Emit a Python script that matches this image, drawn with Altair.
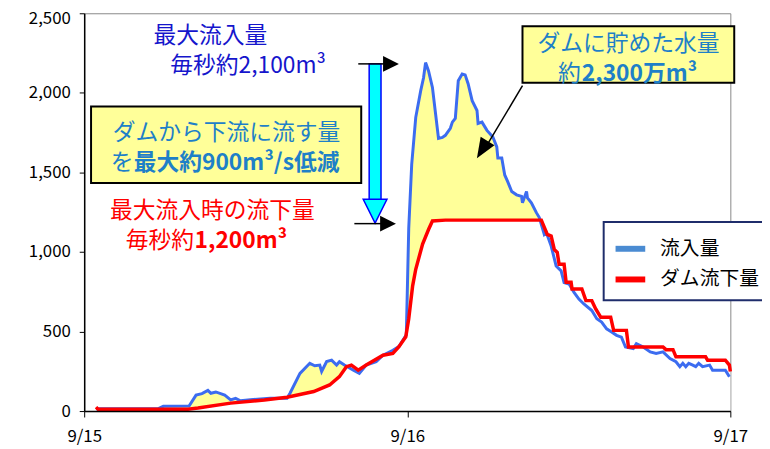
import altair as alt
import pandas as pd

# ---------------- data (hours since 9/15 00:00, m3/s) ----------------
in_hours = [0.88, 5.51, 5.88, 7.79, 8.31, 8.75, 9.19, 9.41, 9.78, 10.44, 10.88, 11.25, 11.61, 12.35,
            13.82, 15.07, 15.29, 16.03, 16.76, 17.13, 17.5, 17.64, 18.01, 18.38, 18.75, 18.96, 19.33,
            20.0, 20.44, 20.95, 21.69, 22.2, 22.93, 23.38, 23.93, 24.11, 24.33, 24.63, 25.0, 25.21,
            25.36, 25.58, 25.87, 26.1, 26.32, 26.61, 26.83, 27.2, 27.35, 27.57, 27.79, 28.08, 28.3,
            28.52, 28.82, 29.18, 29.26, 29.55, 29.92, 30.36, 30.65, 30.73, 31.02, 31.24, 31.46, 31.76,
            32.12, 32.49, 32.56, 32.86, 32.93, 33.22, 33.59, 33.81, 34.18, 34.33, 34.69, 35.06, 35.43,
            35.65, 36.02, 36.39, 36.75, 37.12, 37.71, 38.08, 38.44, 38.81, 39.18, 39.55, 39.91, 40.21,
            40.79, 41.02, 41.53, 42.05, 42.49, 43.0, 43.52, 43.96, 44.25, 44.47, 44.69, 44.91, 45.21,
            45.43, 45.65, 45.94, 46.46, 46.68, 47.63, 47.93]
inflow = [15, 15, 30, 32, 100, 110, 130, 112, 120, 100, 70, 80, 65, 72,
          80, 80, 112, 237, 300, 285, 289, 249, 311, 320, 289, 310, 289,
          257, 237, 289, 310, 351, 382, 405, 480, 1150, 1550, 1846, 2014, 2095,
          2190, 2138, 2034, 1870, 1714, 1720, 1733, 1777, 1816, 1839, 2076, 2118, 2113,
          2057, 1951, 1889, 1808, 1816, 1764, 1722, 1660, 1590, 1590, 1484, 1442, 1380,
          1359, 1349, 1309, 1380, 1340, 1309, 1247, 1216, 1110, 1122, 1037, 912, 881,
          808, 798, 746, 704, 673, 632, 580, 559, 517, 497, 476, 465, 403,
          393, 424, 403, 372, 362, 372, 330, 310, 279, 300, 279, 300, 289,
          279, 300, 279, 289, 257, 257, 216]

out_hours = [0.88, 1.03, 7.72, 8.45, 10.88, 13.38, 15.07, 17.05, 18.23, 18.96, 19.48, 19.85, 20.36,
             20.95, 22.2, 22.93, 23.38, 23.89, 24.11, 24.4, 24.63, 25.14, 25.58, 25.87, 26.83, 33.96,
             34.4, 34.69, 34.92, 35.14, 35.28, 35.65, 35.8, 36.17, 36.24, 36.97, 37.27, 37.71, 38.0,
             38.37, 39.11, 39.33, 40.28, 40.43, 43.0, 43.22, 43.74, 43.96, 46.16, 46.31, 47.63, 47.93, 48.0]
outflow = [25, 12, 12, 19, 50, 70, 87, 123, 164, 216, 279, 289, 257,
           289, 351, 362, 405, 467, 580, 787, 891, 1050, 1141, 1195, 1200, 1200,
           1110, 1100, 1016, 997, 923, 923, 810, 810, 767, 767, 694, 694, 642,
           590, 590, 507, 507, 403, 403, 386, 386, 341, 341, 320, 320, 289, 249]

series_names = ["流入量", "ダム流下量"]
x_ticks = [0, 24, 48]
x_labels = ["9/15", "9/16", "9/17"]
y_ticks = [0, 500, 1000, 1500, 2000, 2500]

FONT = "Noto Sans CJK JP"
BLUE_LINE = "#3C6CF0"
RED = "#FF0000"
YELLOW = "#FFFF99"
TEXT_BLUE = "#1E80C8"
NAVY_TEXT = "#1515CC"

df_in = pd.DataFrame({"t": in_hours, "v": inflow})
df_out = pd.DataFrame({"t": out_hours, "v": outflow})

label_expr = "[" + ",".join("'%s'" % s for s in x_labels) + "][round(datum.value/24)]"

xscale = alt.Scale(domain=[0, 48], nice=False, zero=False)
yscale = alt.Scale(domain=[0, 2500], nice=False)
xaxis = alt.Axis(values=x_ticks, labelExpr=label_expr, title=None, grid=False, domainColor="black",
                 domainWidth=1.5, tickColor="black", tickSize=6, labelFont=FONT, labelFontSize=17,
                 labelColor="black", labelPadding=12, labelFlush=False, zindex=1)
yaxis = alt.Axis(values=y_ticks, format=",d", title=None, grid=False, domainColor="black",
                 domainWidth=1.5, tickColor="black", tickSize=5, labelFont=FONT, labelFontSize=17,
                 labelColor="black", labelPadding=9, labelFlush=False, zindex=1,
                 labelOffset={"condition": {"test": "datum.value == 2500", "value": 5}, "value": 0})


def X(f="t"):
    return alt.X(f"{f}:Q", scale=xscale, axis=xaxis)


def Y(f="v"):
    return alt.Y(f"{f}:Q", scale=yscale, axis=yaxis)


area_in = alt.Chart(df_in).mark_area(color=YELLOW, opacity=1).encode(x=X(), y=Y())
area_out = alt.Chart(df_out).mark_area(color="white", opacity=1).encode(x=X(), y=Y())
line_in = alt.Chart(df_in).mark_line(color=BLUE_LINE, strokeWidth=3).encode(x=X(), y=Y())
line_out = alt.Chart(df_out).mark_line(color=RED, strokeWidth=3.5).encode(x=X(), y=Y())

df_leg = pd.DataFrame({"s": series_names, "t": [0, 0], "v": [0, 0]})
legend_layer = alt.Chart(df_leg).mark_line(strokeWidth=6).encode(
    x=X(), y=Y(),
    color=alt.Color("s:N", scale=alt.Scale(domain=series_names, range=["#4A8BD2", RED]),
                    legend=alt.Legend(title=None, orient="none", legendX=525, legendY=211,
                                      symbolType="stroke", symbolSize=900, symbolStrokeWidth=6,
                                      labelFontSize=20, labelFont=FONT, labelColor="black",
                                      labelOffset=12, padding=9, rowPadding=1,
                                      fillColor="white", strokeColor="#1F2D6B", labelLimit=300)))

# ---------------- annotation boxes ----------------
boxes = pd.DataFrame({"t": [0.51, 32.56], "t2": [20.58, 48.29],
                      "v": [1434, 2063], "v2": [1914, 2419]})
box_layer = alt.Chart(boxes).mark_rect(fill=YELLOW, stroke="black", strokeWidth=2).encode(
    x=X(), x2="t2:Q", y=Y(), y2="v2:Q")


def text(df, color, weight="normal", align="left", size=23):
    return alt.Chart(df).mark_text(font=FONT, fontSize=size, color=color, fontWeight=weight,
                                   align=align, baseline="middle").encode(x=X(), y=Y(), text="s:N")


txt_navy = text(pd.DataFrame({"t": [5.15, 6.40], "v": [2356, 2169],
                              "s": ["最大流入量", "毎秒約2,100m³"]}), NAVY_TEXT)
txt_box_c = text(pd.DataFrame({"t": [10.58, 40.43], "v": [1746, 2307],
                               "s": ["ダムから下流に流す量", "ダムに貯めた水量"]}), TEXT_BLUE, align="center")
txt_box_n = text(pd.DataFrame({"t": [1.98, 35.20], "v": [1559, 2120], "s": ["を", "約"]}), TEXT_BLUE)
txt_box_b = text(pd.DataFrame({"t": [3.68, 36.97], "v": [1559, 2120],
                               "s": ["最大約900m³/s低減", "2,300万m³"]}), TEXT_BLUE, weight="bold")
txt_red_n = text(pd.DataFrame({"t": [1.91, 3.09], "v": [1256, 1070],
                               "s": ["最大流入時の流下量", "毎秒約"]}), RED)
txt_red_b = text(pd.DataFrame({"t": [8.20], "v": [1070], "s": ["1,200m³"]}), RED, weight="bold")

# ---------------- arrows ----------------
cyan_body = alt.Chart(pd.DataFrame({"t": [21.17], "t2": [22.05], "v": [1297], "v2": [2182]})).mark_rect(
    fill="#00FFFF", stroke="#0000FF", strokeWidth=1.5).encode(x=X(), x2="t2:Q", y=Y(), y2="v2:Q")
cyan_head = alt.Chart(pd.DataFrame({"t": [21.61], "v": [1256]})).mark_point(
    shape="M -1 -1 L 1 -1 L 0 1 Z", filled=True, fill="#00FFFF", stroke="#0000FF", strokeWidth=1.5,
    size=576, opacity=1).encode(x=X(), y=Y())

rules = pd.DataFrame({"t": [20.36, 20.07, 32.56], "t2": [22.57, 22.27, 29.70],
                      "v": [2182, 1178, 2045], "v2": [2182, 1178, 1640]})
rule_layer = alt.Chart(rules).mark_rule(color="black", strokeWidth=1.5).encode(
    x=X(), x2="t2:Q", y=Y(), y2="v2:Q")
heads_right = alt.Chart(pd.DataFrame({"t": [22.79, 22.57], "v": [2182, 1178]})).mark_point(
    shape="M -1 -1 L 1 0 L -1 1 Z", filled=True, color="black", size=256, opacity=1).encode(x=X(), y=Y())
head_diag = alt.Chart(pd.DataFrame({"t": [29.57], "v": [1643]})).mark_point(
    shape="M -0.8 1 L 0 -1 L 0.8 1 Z", filled=True, color="black", size=420, angle=211.7,
    opacity=1).encode(x=X(), y=Y())

chart = alt.layer(
    area_in, area_out, line_in, line_out, legend_layer,
    box_layer, txt_navy, txt_box_c, txt_box_n, txt_box_b, txt_red_n, txt_red_b,
    cyan_body, cyan_head, rule_layer, heads_right, head_diag
).properties(
    width=653, height=402,
    autosize=alt.AutoSizeParams(type="none"),
    padding={"left": 77, "top": 3, "right": 32, "bottom": 36},
    background="white",
).configure_view(stroke="#888888", strokeWidth=1).configure_legend(strokeWidth=2)

chart.save("out.html", embed_options={"renderer": "svg", "actions": False})
